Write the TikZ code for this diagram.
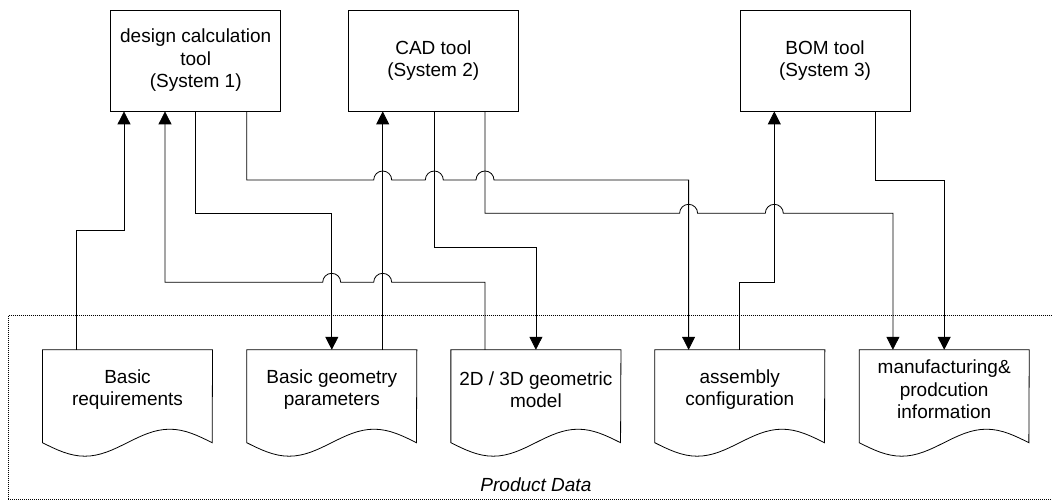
\documentclass[tikz,border=0pt]{standalone}
\usepackage{fontspec}
\setmainfont{Liberation Sans}
\usetikzlibrary{arrows.meta}

% documents with a wavy bottom edge (outline drawn around a named node)
\newcommand\docoutline[1]{%
  \draw[docline] (#1.north west) -- ([yshift=-13.5pt]#1.south west)
    sin ++(42.425,13.5) cos ++(42.425,-13.5)
    sin ++(42.425,-13.5) cos ++(42.425,13.5)
    -- (#1.north east) -- cycle;}

\begin{document}
\begin{tikzpicture}[x=1pt,y=-1pt,
  every node/.style={font=\fontsize{19}{22.5}\selectfont},
  system/.style={draw, line width=0.8pt, minimum width=170, minimum height=101,
    inner sep=0pt, align=center},
  docnode/.style={minimum width=169.7, minimum height=79, inner sep=0pt, align=center},
  docline/.style={line width=0.8pt},
  flow/.style={line width=0.8pt, -{Triangle[length=13pt,width=13pt]}},
  plain/.style={line width=0.8pt},
  hop/.style={start angle=180, end angle=0, radius=9pt},
  hopl/.style={start angle=0, end angle=180, radius=9pt},
  frame/.style={draw, line width=0.8pt, dash pattern=on 1pt off 1pt,
    inner sep=0pt}]

\clip (0,0) rectangle (1052,502);

% product data frame
\node[frame, minimum width=1055.2, minimum height=183.6] (pdata) at (535.9,407.5) {};
\node[anchor=base, font=\fontsize{19}{22.5}\selectfont\itshape] (pdlabel) at (535.9,491.7) {Product Data};

% systems
\node[system] (s1) at (195.7,60.5) {design calculation\\tool\\(System 1)};
\node[system] (s2) at (433.3,60.5) {CAD tool\\(System 2)};
\node[system] (s3) at (825,60.5) {BOM tool\\(System 3)};

% product data documents
\node[docnode] (d1) at (127.5,389.5) {Basic\\requirements};
\node[docnode] (d2) at (331.8,389.5) {Basic geometry\\parameters};
\node[docnode] (d3) at (535.9,389.5) {2D / 3D geometric\\model};
\node[docnode] (d4) at (739.8,389.5) {assembly\\configuration};
\node[docnode] (d5) at (944.2,389.5) {manufacturing\&\\prodcution\\information};
\docoutline{d1}
\docoutline{d2}
\docoutline{d3}
\docoutline{d4}
\docoutline{d5}

% data flows
\draw[flow] (d1.north -| 76.3,0) -- (76.3,230) -- (124,230) -- (s1.south -| 124,0);
\draw[flow] (d3.north -| 485,0) -- (485,282.3) -- (391.7,282.3) arc[hopl]
  -- (340.7,282.3) arc[hopl] -- (165,282.3) -- (s1.south -| 165,0);
\draw[flow] (s1.south) -- ++(0,102.3) -| (d2.north);
\draw[flow] (s1.south -| 246.7,0) -- (246.7,180) -- (373.7,180) arc[hop]
  -- (425.3,180) arc[hop] -- (476,180) arc[hop] -- (688.6,180) -- (d4.north -| 688.6,0);
\draw[flow] (d2.north -| 382.7,0) -- (s2.south -| 382.7,0);
\draw[flow] (s2.south -| 434.3,0) -- (434.3,247.7) -| (d3.north);
\draw[flow] (s2.south -| 485,0) -- (485,213.3) -- (679.6,213.3) arc[hop]
  -- (765.3,213.3) arc[hop] -- (892.9,213.3) -- (d5.north -| 892.9,0);
\draw[flow] (d4.north) -- (739.8,282.3) -- (774.3,282.3) -- (s3.south -| 774.3,0);
\draw[flow] (s3.south -| 875.7,0) -- (875.7,180) -| (d5.north);

\end{tikzpicture}
\end{document}
